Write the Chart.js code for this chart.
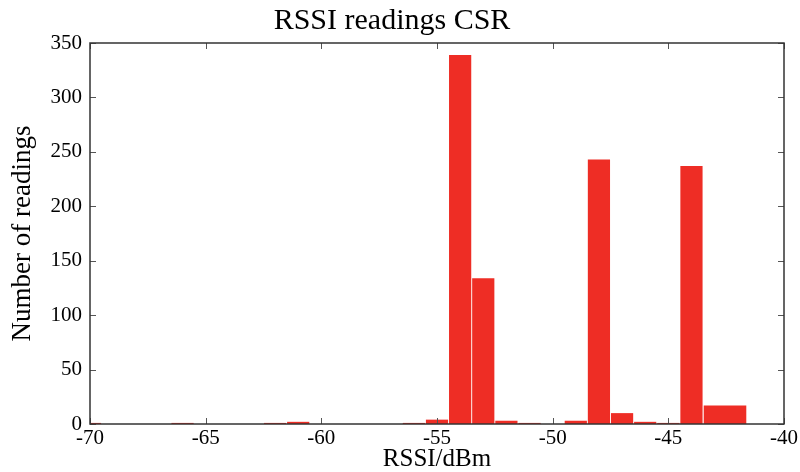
<!DOCTYPE html>
<html>
<head>
<meta charset="utf-8">
<script src="https://cdn.jsdelivr.net/npm/chart.js@4.4.1/dist/chart.umd.min.js"></script>
<style>
  html, body { margin: 0; padding: 0; background: #fff; }
  #wrap { width: 800px; height: 472px; position: relative; }
</style>
</head>
<body>
<div id="wrap"><canvas id="hist"></canvas></div>
<script>
// histogram bins (centre in dBm) and counts
const binCenters = [-70, -66, -62, -61, -56, -55, -54, -53, -52, -51, -49, -48, -47, -46, -45, -44];
const counts     = [1, 1, 1, 2, 1, 4, 339, 134, 3, 1, 3, 243, 10, 2, 1, 237];
// last bin is drawn wider in the original
const lastBinCenter = -42.55;
const lastBinCount = 17;

const xTicks = [-70, -65, -60, -55, -50, -45, -40];
const yTicks = [0, 50, 100, 150, 200, 250, 300, 350];

const RED = '#ee2d25';
const SERIF = '"Liberation Serif", "DejaVu Serif", serif';

// MATLAB-like box with inward ticks
const boxAxes = {
  id: 'boxAxes',
  afterDatasetsDraw(chart) {
    const { ctx, chartArea: a, scales: { x, y } } = chart;
    const len = 6;
    ctx.save();
    ctx.strokeStyle = '#555';
    ctx.lineWidth = 1;
    ctx.beginPath();
    x.ticks.forEach(t => {
      const px = Math.round(x.getPixelForValue(t.value)) + 0.5;
      ctx.moveTo(px, a.bottom); ctx.lineTo(px, a.bottom - len);
      ctx.moveTo(px, a.top); ctx.lineTo(px, a.top + len);
    });
    y.ticks.forEach(t => {
      const py = Math.round(y.getPixelForValue(t.value)) + 0.5;
      ctx.moveTo(a.left, py); ctx.lineTo(a.left + len, py);
      ctx.moveTo(a.right, py); ctx.lineTo(a.right - len, py);
    });
    ctx.stroke();
    ctx.strokeStyle = '#333';
    ctx.lineWidth = 1.5;
    ctx.strokeRect(a.left, a.top, a.width, a.height);
    ctx.restore();
  }
};

new Chart(document.getElementById('hist'), {
  type: 'bar',
  data: {
    datasets: [
      {
        label: 'RSSI',
        data: binCenters.map((c, i) => ({ x: c, y: counts[i] })),
        backgroundColor: RED,
        borderWidth: 0,
        categoryPercentage: 1,
        barPercentage: 0.96,
        grouped: false,
        clip: 0,
      },
      {
        label: 'RSSI last',
        data: [{ x: lastBinCenter, y: lastBinCount }],
        backgroundColor: RED,
        borderWidth: 0,
        categoryPercentage: 1,
        barPercentage: 1.84,
        grouped: false,
        clip: 0,
      },
    ],
  },
  options: {
    responsive: true,
    maintainAspectRatio: false,
    animation: false,
    layout: { padding: { top: 0, right: 16, bottom: 0, left: 0 } },
    plugins: {
      legend: { display: false },
      tooltip: { enabled: false },
      title: {
        display: true,
        text: 'RSSI readings CSR',
        color: '#000',
        font: { family: SERIF, size: 30, weight: 'normal', lineHeight: 1.2 },
        padding: { top: 3, bottom: 4 },
      },
    },
    scales: {
      x: {
        type: 'linear',
        min: -70,
        max: -40,
        offset: false,
        afterBuildTicks: s => { s.ticks = xTicks.map(v => ({ value: v })); },
        afterFit: s => { s.height = 48; },
        ticks: {
          color: '#000',
          font: { family: SERIF, size: 21 },
          padding: 2,
          maxRotation: 0,
        },
        grid: { display: false, drawTicks: false, offset: false },
        border: { display: false },
        title: {
          display: true,
          text: 'RSSI/dBm',
          color: '#000',
          font: { family: SERIF, size: 25, lineHeight: 1.0 },
          padding: { top: 0, bottom: 0 },
        },
      },
      y: {
        min: 0,
        max: 350,
        afterBuildTicks: s => { s.ticks = yTicks.map(v => ({ value: v })); },
        afterFit: s => { s.width = 90; },
        ticks: {
          color: '#000',
          font: { family: SERIF, size: 21 },
          padding: 8,
        },
        grid: { display: false, drawTicks: false },
        border: { display: false },
        title: {
          display: true,
          text: 'Number of readings',
          color: '#000',
          font: { family: SERIF, size: 27, lineHeight: 1.2 },
          padding: { top: 7, bottom: 0 },
        },
      },
    },
  },
  plugins: [boxAxes],
});
</script>
</body>
</html>
